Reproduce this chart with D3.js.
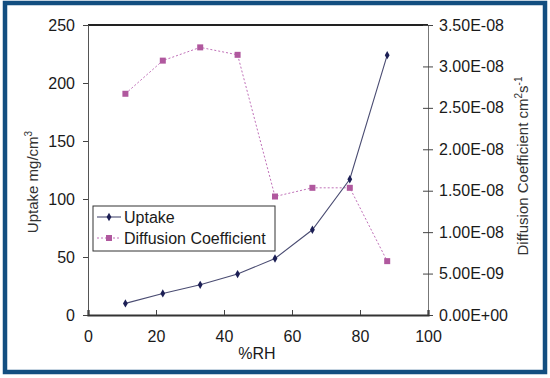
<!DOCTYPE html>
<html><head><meta charset="utf-8">
<script src="https://cdn.jsdelivr.net/npm/d3@7"></script>
<style>body{margin:0;background:#fff}svg{display:block;font-family:"Liberation Sans",Arial,sans-serif}</style>
</head><body><svg id="c" width="550" height="378"></svg>
<script>
const rh = [11, 22, 33, 44, 55, 66, 77, 88];
const uptake = [10, 18.6, 26, 35.3, 48.7, 73.5, 117, 224];
const diffusion = [2.67e-8, 3.07e-8, 3.23e-8, 3.14e-8, 1.43e-8, 1.535e-8, 1.535e-8, 0.65e-8];
const xTicks = [0, 20, 40, 60, 80, 100];
const yTicks = [0, 50, 100, 150, 200, 250];
const y2Ticks = [0, 5e-9, 1e-8, 1.5e-8, 2e-8, 2.5e-8, 3e-8, 3.5e-8];
const y2Labels = ["0.00E+00","5.00E-09","1.00E-08","1.50E-08","2.00E-08","2.50E-08","3.00E-08","3.50E-08"];

const svg = d3.select("#c");
const L = 88, R = 428, T = 25, B = 315;
const x = d3.scaleLinear().domain([0,100]).range([L,R]);
const y = d3.scaleLinear().domain([0,250]).range([B,T]);
const y2 = d3.scaleLinear().domain([0,3.5e-8]).range([B,T]);

// outer frame
svg.append("rect").attr("x",5).attr("y",3).attr("width",540).attr("height",369)
  .attr("fill","none").attr("stroke","#134e80").attr("stroke-width",4.5);

// top frame line
svg.append("line").attr("x1",L).attr("x2",R).attr("y1",T).attr("y2",T).attr("stroke","#222").attr("stroke-width",1.8);

// left axis
const gl = svg.append("g").attr("transform",`translate(${L},0)`)
  .call(d3.axisLeft(y).tickValues(yTicks).tickSize(5).tickPadding(8));
// right axis
const gr = svg.append("g").attr("transform",`translate(${R},0)`)
  .call(d3.axisRight(y2).tickValues(y2Ticks).tickFormat((d,i)=>y2Labels[i]).tickSize(5).tickPadding(6));
gr.selectAll(".tick line").attr("x1",-5);
// bottom axis
const gb = svg.append("g").attr("transform",`translate(0,${B})`)
  .call(d3.axisBottom(x).tickValues(xTicks).tickSize(-5).tickPadding(16));

[gl,gr,gb].forEach(g=>{
  g.selectAll("text").attr("font-size",16).attr("fill","#1a1a1a").attr("font-family","Liberation Sans, Arial, sans-serif");
  g.selectAll(".tick line").attr("stroke","#444");
});
gl.select(".domain").attr("stroke","#555");
gr.select(".domain").attr("stroke","#777");
gb.select(".domain").attr("stroke","#333").attr("stroke-width",2.2);
gb.selectAll("text").attr("dy","0.71em");

// axis titles
svg.append("text").attr("x",257).attr("y",359).attr("text-anchor","middle").attr("font-size",16).attr("fill","#1a1a1a").text("%RH");
const lt = svg.append("text").attr("transform","translate(38,182) rotate(-90)").attr("text-anchor","middle").attr("font-size",15).attr("fill","#333");
lt.append("tspan").text("Uptake mg/cm");
lt.append("tspan").attr("dy",-6).attr("font-size",10).text("3");
const rt = svg.append("text").attr("transform","translate(528,166) rotate(-90)").attr("text-anchor","middle").attr("font-size",15).attr("fill","#333");
rt.append("tspan").text("Diffusion Coefficient cm");
rt.append("tspan").attr("dy",-6).attr("font-size",10).text("2");
rt.append("tspan").attr("dy",6).text("s");
rt.append("tspan").attr("dy",-6).attr("font-size",10).text("-1");

// diffusion series
const dline = d3.line().x((d,i)=>x(rh[i])).y(d=>y2(d));
svg.append("path").attr("d",dline(diffusion)).attr("fill","none").attr("stroke","#c070b8").attr("stroke-width",1).attr("stroke-dasharray","2,2");
svg.selectAll(".dsq").data(diffusion).enter().append("rect")
  .attr("x",(d,i)=>x(rh[i])-3).attr("y",d=>y2(d)-3).attr("width",6).attr("height",6).attr("fill","#b0589e");

// uptake series
const uline = d3.line().x((d,i)=>x(rh[i])).y(d=>y(d));
svg.append("path").attr("d",uline(uptake)).attr("fill","none").attr("stroke","#4a4c72").attr("stroke-width",1.1);
const diamond = d3.symbol().type(d3.symbolDiamond).size(20);
svg.selectAll(".ud").data(uptake).enter().append("path")
  .attr("d",diamond).attr("transform",(d,i)=>`translate(${x(rh[i])},${y(d)})`).attr("fill","#1c1f55");

// legend
const lg = svg.append("g");
lg.append("rect").attr("x",93).attr("y",206).attr("width",182).attr("height",45).attr("fill","#fff").attr("stroke","#333").attr("stroke-width",1);
lg.append("line").attr("x1",97).attr("x2",121).attr("y1",217).attr("y2",217).attr("stroke","#4a4c72").attr("stroke-width",1.1);
lg.append("path").attr("d",diamond).attr("transform","translate(109,217)").attr("fill","#1c1f55");
lg.append("text").attr("x",124).attr("y",223).attr("font-size",16).attr("fill","#1a1a1a").text("Uptake");
lg.append("line").attr("x1",97).attr("x2",121).attr("y1",238).attr("y2",238).attr("stroke","#c070b8").attr("stroke-width",1).attr("stroke-dasharray","2,2");
lg.append("rect").attr("x",106).attr("y",235).attr("width",6).attr("height",6).attr("fill","#b0589e");
lg.append("text").attr("x",124).attr("y",244).attr("font-size",16).attr("fill","#1a1a1a").text("Diffusion Coefficient");
</script></body></html>
